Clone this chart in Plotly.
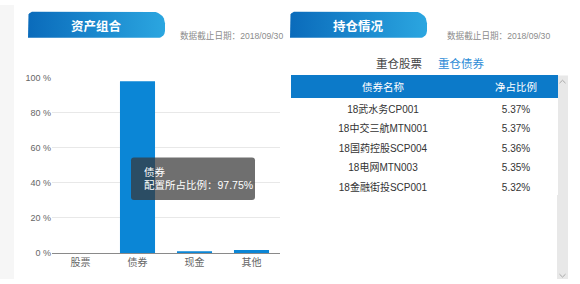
import numpy as np
import plotly.graph_objects as go

# ---- data ----
categories = ["股票", "债券", "现金", "其他"]
alloc_values = [0.0, 97.75, 0.6, 1.65]
tooltip_cat = "债券"
tooltip_label = "配置所占比例"
tooltip_value = 97.75

bond_names = ["18武水务CP001", "18中交三航MTN001", "18国药控股SCP004", "18电网MTN003", "18金融街投SCP001"]
bond_ratio = ["5.37%", "5.37%", "5.36%", "5.35%", "5.32%"]
table_headers = ["债券名称", "净占比例"]

panel_titles = ["资产组合", "持仓情况"]
date_text = "数据截止日期：2018/09/30"
tab_labels = ["重仓股票", "重仓债券"]

W, H = 580, 284
FONT = "Liberation Sans, Noto Sans CJK SC, sans-serif"
CJK = "Noto Sans CJK SC, sans-serif"


def px(x):
    return x / W


def py(y):
    return 1 - y / H


def arc(cx, cy, r, a0, a1, n=8):
    t = np.linspace(a0, a1, n)
    return list(cx + r * np.cos(t)), list(cy + r * np.sin(t))


def tab_path(x0, x1, y0, y1, r1=5, r2=12, r3=7):
    xs, ys = [x0], [y1]
    ax, ay = arc(x0 + r1, y0 + r1, r1, np.pi, 1.5 * np.pi)
    xs += ax; ys += ay
    ax, ay = arc(x1 - r2, y0 + r2, r2, 1.5 * np.pi, 2 * np.pi)
    xs += ax; ys += ay
    ax, ay = arc(x1 - r3, y1 - r3, r3, 0, 0.5 * np.pi)
    xs += ax; ys += ay
    xs.append(x0); ys.append(y1)
    return xs, ys


def rrect(x0, y0, x1, y1, r):
    return (f"M{x0+r},{y0} L{x1-r},{y0} Q{x1},{y0} {x1},{y0+r} L{x1},{y1-r} "
            f"Q{x1},{y1} {x1-r},{y1} L{x0+r},{y1} Q{x0},{y1} {x0},{y1-r} "
            f"L{x0},{y0+r} Q{x0},{y0} {x0+r},{y0} Z")


fig = go.Figure()

# bar chart
fig.add_trace(go.Bar(
    x=categories, y=alloc_values, marker=dict(color="#0b86d6", line=dict(width=0)),
    xaxis="x", yaxis="y", hoverinfo="skip",
))

# tabs (gradient) in pixel overlay axes
for i, (x0, x1) in enumerate([(28, 165), (290, 427)]):
    xs, ys = tab_path(x0, x1, 7, 34)
    fig.add_trace(go.Scatter(
        x=xs, y=ys, mode="lines", fill="toself", line=dict(width=0),
        fillgradient=dict(type="horizontal",
                          colorscale=[[0, "#0a6bbb"], [1, "#2ba6e0"]]),
        xaxis="x2", yaxis="y2", hoverinfo="skip", showlegend=False,
    ))

# table
fig.add_trace(go.Table(
    domain=dict(x=[px(291), px(557)], y=[0, py(73)]),
    columnwidth=[184, 82],
    header=dict(values=table_headers, fill_color="#0c7ac9", line_color="#0c7ac9",
                font=dict(color="white", size=10.5, family=FONT), height=22, align="center"),
    cells=dict(values=[bond_names, bond_ratio], fill_color="white", line_color="white",
               font=dict(color="#333333", size=10, family=FONT), height=19.5, align="center"),
))

shapes = []
annotations = []

# left light strip
shapes.append(dict(type="rect", xref="x2", yref="y2", x0=0, x1=14, y0=0, y1=H,
                   fillcolor="#f6f6f6", line=dict(width=0), layer="below"))

# scrollbar
shapes.append(dict(type="rect", xref="x2", yref="y2", x0=557, x1=568, y0=73, y1=H,
                   fillcolor="#e8e8e8", line=dict(width=0), layer="below"))
shapes.append(dict(type="path", xref="x2", yref="y2", path="M559.5,81 L562.5,78 L565.5,81",
                   line=dict(color="#a8a8a8", width=1)))
shapes.append(dict(type="path", xref="x2", yref="y2", path="M559.5,279 L562.5,282 L565.5,279",
                   line=dict(color="#a8a8a8", width=1)))

# tooltip box
shapes.append(dict(type="path", xref="x2", yref="y2", path=rrect(131, 158, 255, 202, 3),
                   fillcolor="rgba(55,55,55,0.72)", line=dict(width=0), layer="above"))
annotations.append(dict(xref="x2", yref="y2", x=142, y=173, text=tooltip_cat, showarrow=False,
                        xanchor="left", yanchor="middle",
                        font=dict(color="white", size=10.5, family=FONT)))
annotations.append(dict(xref="x2", yref="y2", x=142, y=187,
                        text=f"{tooltip_label}：{tooltip_value:.2f}%", showarrow=False,
                        xanchor="left", yanchor="middle",
                        font=dict(color="white", size=10.5, family=FONT)))

# titles
for t, cx in zip(panel_titles, [96, 358]):
    annotations.append(dict(xref="x2", yref="y2", x=cx, y=21, text=f"<b>{t}</b>", showarrow=False,
                            xanchor="center", yanchor="middle",
                            font=dict(color="white", size=12.5, family=CJK)))
for x in [178, 445]:
    annotations.append(dict(xref="x2", yref="y2", x=x, y=31.5, text=date_text, showarrow=False,
                            xanchor="left", yanchor="middle",
                            font=dict(color="#8c8c8c", size=8.6, family=FONT)))

# sub tabs
for t, cx, col in zip(tab_labels, [398.5, 461], ["#444444", "#2a8ad6"]):
    annotations.append(dict(xref="x2", yref="y2", x=cx, y=60.5, text=t, showarrow=False,
                            xanchor="center", yanchor="middle",
                            font=dict(color=col, size=11.5, family=CJK)))

fig.update_layout(
    width=W, height=H, margin=dict(l=0, r=0, t=0, b=0),
    paper_bgcolor="white", plot_bgcolor="rgba(0,0,0,0)",
    showlegend=False, hovermode=False, bargap=0.385,
    xaxis=dict(domain=[px(52), px(280)], anchor="y", showline=True, linecolor="#8a8a8a",
               linewidth=1, ticks="", tickfont=dict(color="#666666", size=10, family=CJK),
               showgrid=False, fixedrange=True),
    yaxis=dict(domain=[py(257), py(75)], anchor="x", range=[0, 100], dtick=20,
               ticksuffix=" %", showgrid=True, gridcolor="#e8e8e8", gridwidth=1,
               zeroline=False, ticks="", tickfont=dict(color="#666666", size=9, family=FONT),
               fixedrange=True),
    xaxis2=dict(domain=[0, 1], range=[0, W], anchor="y2", visible=False, fixedrange=True),
    yaxis2=dict(domain=[0, 1], range=[H, 0], anchor="x2", visible=False, fixedrange=True),
    shapes=shapes, annotations=annotations,
)

fig.write_html("out.html", config={"displayModeBar": False})
